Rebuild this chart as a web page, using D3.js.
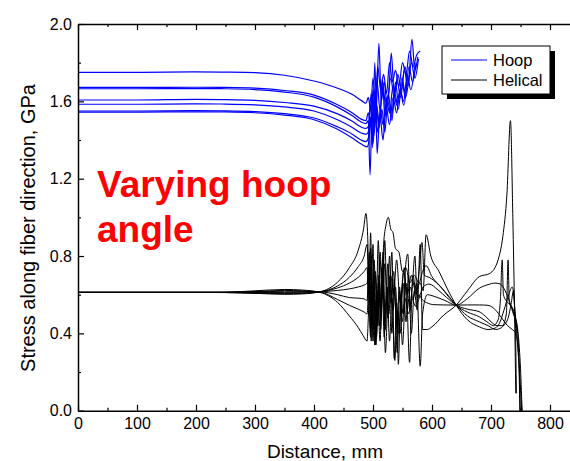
<!DOCTYPE html>
<html>
<head>
<meta charset="utf-8">
<script src="https://cdn.jsdelivr.net/npm/d3@7/dist/d3.min.js"></script>
<style>
  body { margin: 0; background: #fff; }
  text { font-family: Arial, "Liberation Sans", sans-serif; }
</style>
</head>
<body>
<div id="chart"></div>
<script>
// tick values
const xMajor = [0, 100, 200, 300, 400, 500, 600, 700, 800];
const xMinor = [50, 150, 250, 350, 450, 550, 650, 750, 850];
const yMajor = [0.0, 0.4, 0.8, 1.2, 1.6, 2.0];
const yMinor = [0.2, 0.6, 1.0, 1.4, 1.8];

// Hoop series: [distance mm, stress GPa]
const hoop1 = [[0,1.75],[100,1.75],[200,1.752],[250,1.751],[300,1.748],[350,1.735],[400,1.705],[440,1.668],[465,1.635],[480,1.605],[488,1.59],
  [492,1.62],[496,1.56],[500,1.72],[504,1.60],[508,1.78],[513,1.66],[518,1.74],[523,1.64],[528,1.80],[533,1.70],[538,1.76],[544,1.68],[550,1.80],[556,1.74],[562,1.86],[568,1.78],[574,1.84],[580,1.86]];
const hoop2 = [[0,1.672],[100,1.672],[200,1.673],[250,1.672],[300,1.668],[350,1.656],[400,1.632],[440,1.582],[465,1.54],[480,1.508],[488,1.50],
  [492,1.54],[496,1.48],[500,1.66],[505,1.52],[510,1.90],[514,1.60],[519,1.70],[524,1.58],[530,1.72],[536,1.62],[542,1.74],[548,1.66],[554,1.78],[560,1.70],[566,1.92],[571,1.76],[576,1.83]];
const hoop3 = [[0,1.665],[100,1.665],[200,1.666],[250,1.665],[300,1.661],[350,1.648],[400,1.622],[440,1.570],[465,1.525],[480,1.493],[488,1.485],
  [492,1.50],[495,1.22],[499,1.62],[503,1.46],[507,1.70],[512,1.55],[517,1.68],[522,1.56],[527,1.66],[531,1.85],[536,1.64],[541,1.70],[547,1.62],[553,1.76],[559,1.68],[565,1.80],[571,1.72],[577,1.82]];
const hoop4 = [[0,1.607],[100,1.607],[200,1.610],[250,1.609],[300,1.605],[350,1.594],[400,1.575],[440,1.535],[465,1.497],[480,1.467],[488,1.46],
  [492,1.47],[497,1.64],[501,1.42],[506,1.58],[511,1.48],[516,1.72],[520,1.52],[526,1.64],[532,1.50],[538,1.70],[543,1.60],[549,1.72],[555,1.64],[561,1.78],[567,1.70],[573,1.80]];
const hoop5 = [[0,1.585],[100,1.585],[200,1.587],[250,1.586],[300,1.582],[350,1.571],[400,1.550],[440,1.505],[465,1.465],[480,1.436],[488,1.43],
  [492,1.44],[496,1.58],[500,1.40],[504,1.66],[507,1.33],[512,1.56],[517,1.48],[522,1.62],[528,1.54],[534,1.68],[540,1.58],[546,1.66],[552,1.60],[558,1.74],[564,1.66],[570,1.76]];
const hoop6 = [[0,1.55],[100,1.55],[200,1.552],[250,1.551],[300,1.547],[350,1.536],[400,1.514],[440,1.468],[465,1.43],[480,1.40],[488,1.392],
  [492,1.41],[496,1.52],[500,1.38],[505,1.60],[510,1.46],[515,1.56],[520,1.44],[525,1.60],[531,1.52],[537,1.64],[543,1.56],[549,1.70],[555,1.62],[561,1.72]];
const hoop7 = [[0,1.544],[100,1.544],[200,1.546],[250,1.545],[300,1.541],[350,1.529],[400,1.505],[440,1.456],[465,1.41],[480,1.379],[490,1.365],
  [493,1.39],[496,1.50],[499,1.36],[503,1.80],[507,1.44],[512,1.52],[517,1.40],[522,1.58],[528,1.48],[534,1.62],[540,1.54],[546,1.66],[552,1.58],[558,1.70]];

// Helical series
const helical1 = [[0,0.612],[100,0.612],[200,0.612],[250,0.611],[300,0.607],[350,0.602],[380,0.604],[410,0.615],[440,0.665],[460,0.74],[475,0.83],[484,0.94],[488,1.02],
  [491,0.90],[494,0.55],[497,0.80],[500,0.42],[504,0.72],[508,0.50],[512,0.82],[516,0.58],[520,0.76],[525,0.48],[530,0.70],[535,0.60],[540,0.78],[546,0.56],[552,0.72],[558,0.60],[565,0.70],[572,0.62],[580,0.66],[585,0.62],
  [590,0.91],[598,0.80],[612,0.72],[626,0.63],[641,0.546],[660,0.47],[680,0.434],[695,0.42],[705,0.425],[714,0.45],[722,0.52],[730,0.60],[736,0.64],[741,0.48],[743,0.09]];
const helical2 = [[0,0.612],[100,0.612],[200,0.612],[250,0.611],[300,0.608],[350,0.605],[380,0.607],[410,0.615],[440,0.645],[460,0.69],[475,0.745],[485,0.80],[490,0.86],
  [493,0.60],[496,0.92],[499,0.46],[502,0.78],[506,0.38],[510,0.70],[514,0.52],[518,0.86],[522,0.96],[526,1.00],[530,0.94],[534,0.92],[538,0.84],[544,0.82],[550,0.72],[556,0.74],[562,0.66],[570,0.70],[578,0.66],[584,0.72],
  [590,0.75],[600,0.693],[615,0.64],[628,0.59],[641,0.546],[660,0.49],[680,0.46],[695,0.44],[708,0.42],[718,0.43],[726,0.50],[729,0.78],[731,0.56],[737,0.52],[742,0.44],[747,0.28],[751,0.06],[753,-0.05]];
const helical3 = [[0,0.612],[100,0.612],[200,0.612],[250,0.612],[300,0.61],[350,0.608],[380,0.609],[410,0.615],[440,0.635],[460,0.66],[475,0.69],[485,0.72],[490,0.74],
  [493,0.50],[496,0.84],[500,0.36],[504,0.70],[508,0.44],[512,0.78],[516,0.62],[520,0.88],[524,0.54],[528,0.80],[532,0.40],[536,0.68],[541,0.30],[545,0.62],[550,0.46],[555,0.74],[559,0.81],[563,0.52],[568,0.70],[573,0.60],[578,0.72],[583,0.87],
  [587,0.70],[595,0.69],[610,0.655],[625,0.605],[641,0.546],[660,0.51],[680,0.486],[693,0.46],[704,0.44],[712,0.47],[716,0.58],[719,0.78],[721,0.60],[728,0.56],[735,0.54],[740,0.50],[745,0.40]];
const helical4 = [[0,0.612],[100,0.612],[200,0.612],[250,0.612],[300,0.612],[350,0.612],[380,0.613],[410,0.615],[440,0.622],[460,0.63],[475,0.64],[485,0.65],[490,0.66],
  [494,0.82],[497,0.44],[501,0.74],[505,0.34],[509,0.66],[513,0.48],[517,0.82],[521,0.42],[525,0.76],[530,0.56],[535,0.72],[540,0.44],[545,0.64],[550,0.34],[555,0.58],[560,0.50],[566,0.62],[571,0.80],[575,0.56],[580,0.60],[585,0.64],
  [595,0.655],[610,0.625],[625,0.585],[641,0.546],[660,0.525],[680,0.512],[690,0.49],[700,0.46],[710,0.44],[720,0.44],[728,0.47],[734,0.55],[738,0.62],[741,0.50],[744,0.44],[747,0.30],[749,-0.05]];
const helical5 = [[0,0.612],[100,0.612],[200,0.612],[250,0.612],[300,0.614],[350,0.618],[380,0.617],[410,0.615],[440,0.60],[460,0.585],[475,0.582],[485,0.578],[490,0.57],
  [493,0.76],[496,0.40],[500,0.86],[503,0.34],[507,0.62],[511,0.44],[515,0.74],[519,0.38],[523,0.64],[527,0.50],[532,0.82],[536,0.27],[540,0.56],[543,0.24],[547,0.60],[551,0.50],[556,0.66],[562,0.25],[566,0.58],[572,0.54],[578,0.60],[582,0.58],
  [590,0.56],[605,0.548],[620,0.547],[641,0.546],[660,0.547],[680,0.547],[695,0.545],[708,0.52],[718,0.48],[728,0.44],[736,0.42],[742,0.40],[746,0.30],[749,0.10],[750,-0.05]];
const helical6 = [[0,0.612],[100,0.612],[200,0.612],[250,0.613],[300,0.616],[350,0.622],[380,0.62],[410,0.614],[440,0.575],[460,0.545],[475,0.525],[485,0.51],[490,0.50],
  [494,0.70],[497,0.36],[501,0.62],[505,0.46],[509,0.88],[513,0.42],[517,0.68],[521,0.30],[525,0.56],[529,0.70],[534,0.52],[538,0.64],[543,0.40],[548,0.58],[553,0.74],[558,0.52],[563,0.64],[568,0.58],[574,0.66],[580,0.23],[584,0.50],
  [592,0.60],[605,0.59],[622,0.57],[641,0.546],[660,0.58],[680,0.633],[695,0.652],[707,0.66],[716,0.655],[724,0.62],[732,0.56],[738,0.50],[742,0.47],[746,0.40],[750,0.22],[753,0.0],[755,-0.05]];
const helical7 = [[0,0.612],[100,0.612],[200,0.612],[250,0.613],[300,0.62],[350,0.627],[380,0.624],[410,0.612],[440,0.56],[460,0.49],[475,0.43],[483,0.39],[490,0.36],
  [493,0.52],[496,0.38],[500,0.64],[504,0.34],[508,0.58],[512,0.36],[516,0.72],[520,0.44],[524,0.64],[528,0.36],[532,0.58],[537,0.26],[541,0.52],[546,0.40],[551,0.66],[556,0.46],[560,0.70],[565,0.40],[570,0.62],[575,0.52],[580,0.86],[584,0.42],
  [592,0.42],[600,0.434],[620,0.495],[641,0.546],[660,0.62],[680,0.693],[698,0.71],[712,0.78],[720,0.90],[727,1.12],[733,1.50],[737,1.00],[740,0.50],[742,0.09]];

const hoopSeries = [hoop1, hoop2, hoop3, hoop4, hoop5, hoop6, hoop7];
const helicalSeries = [helical1, helical2, helical3, helical4, helical5, helical6, helical7];

const W = 570, H = 461;
const margin = {top: 24, left: 78};
const plotH = 386.7;

const svg = d3.select('#chart').append('svg')
  .attr('width', W)
  .attr('height', H);

const x = d3.scaleLinear().domain([0, 850]).range([margin.left, margin.left + 850 * 0.59]);
const y = d3.scaleLinear().domain([0, 2.0]).range([margin.top + plotH, margin.top]);

svg.append('defs').append('clipPath').attr('id', 'plotclip')
  .append('rect')
  .attr('x', x(0)).attr('y', y(2.0))
  .attr('width', x(850) - x(0)).attr('height', plotH);

// curves (monotone so the smooth parts don't kink at the sample points)
const line = d3.line()
  .curve(d3.curveMonotoneX)
  .x(d => x(d[0]))
  .y(d => y(d[1]));

const curves = svg.append('g').attr('clip-path', 'url(#plotclip)');
curves.selectAll('.helical').data(helicalSeries).enter()
  .append('path')
  .attr('class', 'helical')
  .attr('fill', 'none')
  .attr('stroke', '#000')
  .attr('stroke-width', 1)
  .attr('stroke-linejoin', 'round')
  .attr('d', line);
curves.selectAll('.hoop').data(hoopSeries).enter()
  .append('path')
  .attr('class', 'hoop')
  .attr('fill', 'none')
  .attr('stroke', '#0000ff')
  .attr('stroke-width', 1.2)
  .attr('stroke-linejoin', 'round')
  .attr('d', line);

// axes
function styleAxis(g) {
  g.select('.domain').attr('stroke-width', 1.5);
  g.selectAll('.tick line').attr('stroke-width', 1.2);
  g.selectAll('.tick text').attr('font-size', 16).attr('fill', '#000')
    .style('font-family', 'Arial, "Liberation Sans", sans-serif');
}

svg.append('g')
  .attr('transform', 'translate(0,' + y(0) + ')')
  .call(d3.axisBottom(x).tickValues(xMajor).tickSizeInner(-6).tickSizeOuter(0).tickPadding(7).tickFormat(d3.format('d')))
  .call(styleAxis);
svg.append('g')
  .attr('transform', 'translate(0,' + y(0) + ')')
  .call(d3.axisBottom(x).tickValues(xMinor).tickSizeInner(-3).tickSizeOuter(0).tickFormat(''))
  .call(g => g.select('.domain').remove())
  .call(styleAxis);

svg.append('g')
  .attr('transform', 'translate(0,' + y(2.0) + ')')
  .call(d3.axisTop(x).tickValues(xMajor).tickSizeInner(-6).tickSizeOuter(0).tickFormat(''))
  .call(styleAxis);
svg.append('g')
  .attr('transform', 'translate(0,' + y(2.0) + ')')
  .call(d3.axisTop(x).tickValues(xMinor).tickSizeInner(-3).tickSizeOuter(0).tickFormat(''))
  .call(g => g.select('.domain').remove())
  .call(styleAxis);

svg.append('g')
  .attr('transform', 'translate(' + x(0) + ',0)')
  .call(d3.axisLeft(y).tickValues(yMajor).tickSizeInner(-6).tickSizeOuter(0).tickPadding(6).tickFormat(d3.format('.1f')))
  .call(styleAxis);
svg.append('g')
  .attr('transform', 'translate(' + x(0) + ',0)')
  .call(d3.axisLeft(y).tickValues(yMinor).tickSizeInner(-3).tickSizeOuter(0).tickFormat(''))
  .call(g => g.select('.domain').remove())
  .call(styleAxis);

// axis titles
svg.append('text')
  .attr('x', 325)
  .attr('y', 458)
  .attr('text-anchor', 'middle')
  .attr('font-size', 19)
  .text('Distance, mm');

svg.append('text')
  .attr('transform', 'translate(35,228) rotate(-90)')
  .attr('text-anchor', 'middle')
  .attr('font-size', 20)
  .text('Stress along fiber direction, GPa');

// annotation
const note = svg.append('text')
  .attr('x', 97)
  .attr('y', 197)
  .attr('font-size', 37)
  .attr('font-weight', 'bold')
  .attr('fill', '#ff0000');
note.append('tspan').attr('x', 97).text('Varying hoop');
note.append('tspan').attr('x', 97).attr('dy', 45).text('angle');

// legend
const lg = svg.append('g').attr('transform', 'translate(442,46)');
lg.append('rect').attr('x', 5).attr('y', 5).attr('width', 108).attr('height', 48).attr('fill', '#000');
lg.append('rect').attr('x', 0).attr('y', 0).attr('width', 108).attr('height', 48)
  .attr('fill', '#fff').attr('stroke', '#000').attr('stroke-width', 1);
const legendItems = [{name: 'Hoop', color: '#0000ff'}, {name: 'Helical', color: '#000'}];
legendItems.forEach((it, i) => {
  lg.append('line')
    .attr('x1', 9).attr('x2', 45)
    .attr('y1', 14 + i * 20).attr('y2', 14 + i * 20)
    .attr('stroke', it.color).attr('stroke-width', 1);
  lg.append('text')
    .attr('x', 51).attr('y', 20 + i * 20)
    .attr('font-size', 16.5)
    .text(it.name);
});
</script>
</body>
</html>
